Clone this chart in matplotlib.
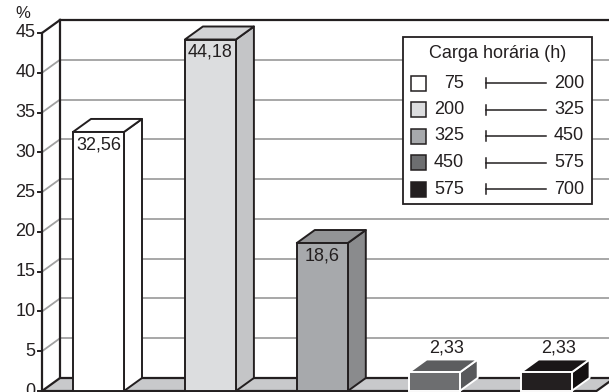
import matplotlib
matplotlib.use("Agg")
import matplotlib.pyplot as plt
from matplotlib.patches import Polygon, Rectangle

plt.rcParams['font.family'] = ['Liberation Sans', 'DejaVu Sans']

# Data
values = [32.56, 44.18, 18.6, 2.33, 2.33]
value_labels = ["32,56", "44,18", "18,6", "2,33", "2,33"]
range_low = [75, 200, 325, 450, 575]
range_high = [200, 325, 450, 575, 700]
legend_title = "Carga horária (h)"
yticks = [0, 5, 10, 15, 20, 25, 30, 35, 40, 45]

front_colors = ["#ffffff", "#dcdddf", "#a7a9ac", "#6d6e70", "#231f20"]
top_colors = ["#ffffff", "#d2d3d5", "#939496", "#5c5d5f", "#1a1718"]
side_colors = ["#ffffff", "#c4c5c7", "#8a8b8d", "#58595b", "#141112"]
edge_colors = ["#231f20", "#231f20", "#231f20", "#ffffff", "#ffffff"]

FS = 13
W, H = 609, 392
fig = plt.figure(figsize=(W / 100, H / 100), dpi=100)
ax = fig.add_axes([0, 0, 1, 1])

# scales: one category step = 111.9 px, one percent = 7.956 px
px_x = 111.9
px_y = 7.956
x0_px = 98.5   # centre of first bar
y0_px = 1.0    # zero line from bottom
ax.set_xlim(-x0_px / px_x, (W - x0_px) / px_x)
ax.set_ylim(-y0_px / px_y, (H - y0_px) / px_y)
ax.axis('off')

dx = 18 / px_x       # depth offset in x
dy = 13 / px_y       # depth offset in y
hw = 25.5 / px_x     # half bar width
x_axis = -56.5 / px_x
x_right = 4.7
ymax = 45
ink = "#231f20"
grid_c = "#a0a0a0"

# back wall
ax.add_patch(Rectangle((x_axis + dx, dy), x_right - x_axis, ymax, facecolor="white",
                       edgecolor="none", zorder=0))
# gridlines on back wall and side wall
for t in yticks[1:-1]:
    ax.plot([x_axis + dx, x_right], [t + dy, t + dy], color=grid_c, lw=1.3, zorder=1)
    ax.plot([x_axis, x_axis + dx], [t, t + dy], color=grid_c, lw=1.3, zorder=1)
# wall outlines
ax.plot([x_axis + dx, x_axis + dx], [dy, ymax + dy], color=ink, lw=1.6, zorder=2)
ax.plot([x_axis + dx, x_right], [ymax + dy, ymax + dy], color=ink, lw=1.6, zorder=2)
ax.plot([x_axis, x_axis + dx], [ymax, ymax + dy], color=ink, lw=1.6, zorder=2)

# floor
floor_right = x_right - 0.25
ax.add_patch(Polygon([(x_axis, 0), (floor_right, 0), (floor_right + dx, dy),
                      (x_axis + dx, dy)], closed=True, facecolor="#c8c9cb",
                     edgecolor=ink, lw=1.6, zorder=2))

# y axis
ax.plot([x_axis, x_axis], [0, ymax], color=ink, lw=1.6, zorder=3)
tick_len = 4.5 / px_x
for t in yticks:
    ax.plot([x_axis - tick_len, x_axis], [t, t], color=ink, lw=1.4, zorder=3)
    ax.text(x_axis - tick_len - 2 / px_x, t, str(t), ha="right", va="center",
            fontsize=FS, color=ink, zorder=3)
ax.text(-76 / px_x, ymax + 2.5, "%", ha="center", va="center", fontsize=FS - 1, color=ink)

# bars
for i, v in enumerate(values):
    xl, xr = i - hw, i + hw
    ec = edge_colors[i]
    ax.add_patch(Polygon([(xr, 0), (xr + dx, dy), (xr + dx, v + dy), (xr, v)],
                         closed=True, facecolor=side_colors[i], edgecolor=ec,
                         lw=1.4, joinstyle="round", zorder=5))
    ax.add_patch(Polygon([(xl, v), (xr, v), (xr + dx, v + dy), (xl + dx, v + dy)],
                         closed=True, facecolor=top_colors[i], edgecolor=ec,
                         lw=1.4, joinstyle="round", zorder=5))
    ax.add_patch(Rectangle((xl, 0), 2 * hw, v, facecolor=front_colors[i],
                           edgecolor=ec, lw=1.4, zorder=6))
    if v > 10:
        ax.text(i, v - 1.6, value_labels[i], ha="center", va="center",
                fontsize=FS, color=ink, zorder=7)
    else:
        ax.text(i + 12 / px_x, v + dy + 1.5, value_labels[i], ha="center",
                va="center", fontsize=FS, color=ink, zorder=7)

# legend box (figure pixel coordinates)
def fx(p):
    return p / W

def fy(p):
    return 1 - p / H

lx0, lx1, ly0, ly1 = 403, 592, 37, 204
fig.patches.append(Rectangle((fx(lx0), fy(ly1)), fx(lx1) - fx(lx0), fy(ly0) - fy(ly1),
                             transform=fig.transFigure, facecolor="white",
                             edgecolor=ink, lw=1.3, zorder=10))
fig.text(fx((lx0 + lx1) / 2), fy(53), legend_title, ha="center", va="center",
         fontsize=FS, color=ink, zorder=11)
row_y = [83, 109.5, 136, 162.5, 189]
for k in range(len(range_low)):
    yc = row_y[k]
    fig.patches.append(Rectangle((fx(411), fy(yc + 7.5)), fx(15), 15 / H,
                                 transform=fig.transFigure, facecolor=front_colors[k],
                                 edgecolor=ink, lw=1.1, zorder=11))
    fig.text(fx(464), fy(yc), str(range_low[k]), ha="right", va="center",
             fontsize=FS, color=ink, zorder=11)
    fig.text(fx(584), fy(yc), str(range_high[k]), ha="right", va="center",
             fontsize=FS, color=ink, zorder=11)
    fig.lines.append(plt.Line2D([fx(486), fx(546)], [fy(yc), fy(yc)],
                                transform=fig.transFigure, color=ink, lw=1.1, zorder=11))
    fig.lines.append(plt.Line2D([fx(486), fx(486)], [fy(yc - 5), fy(yc + 5)],
                                transform=fig.transFigure, color=ink, lw=1.1, zorder=11))

fig.savefig("out.png", dpi=100)
